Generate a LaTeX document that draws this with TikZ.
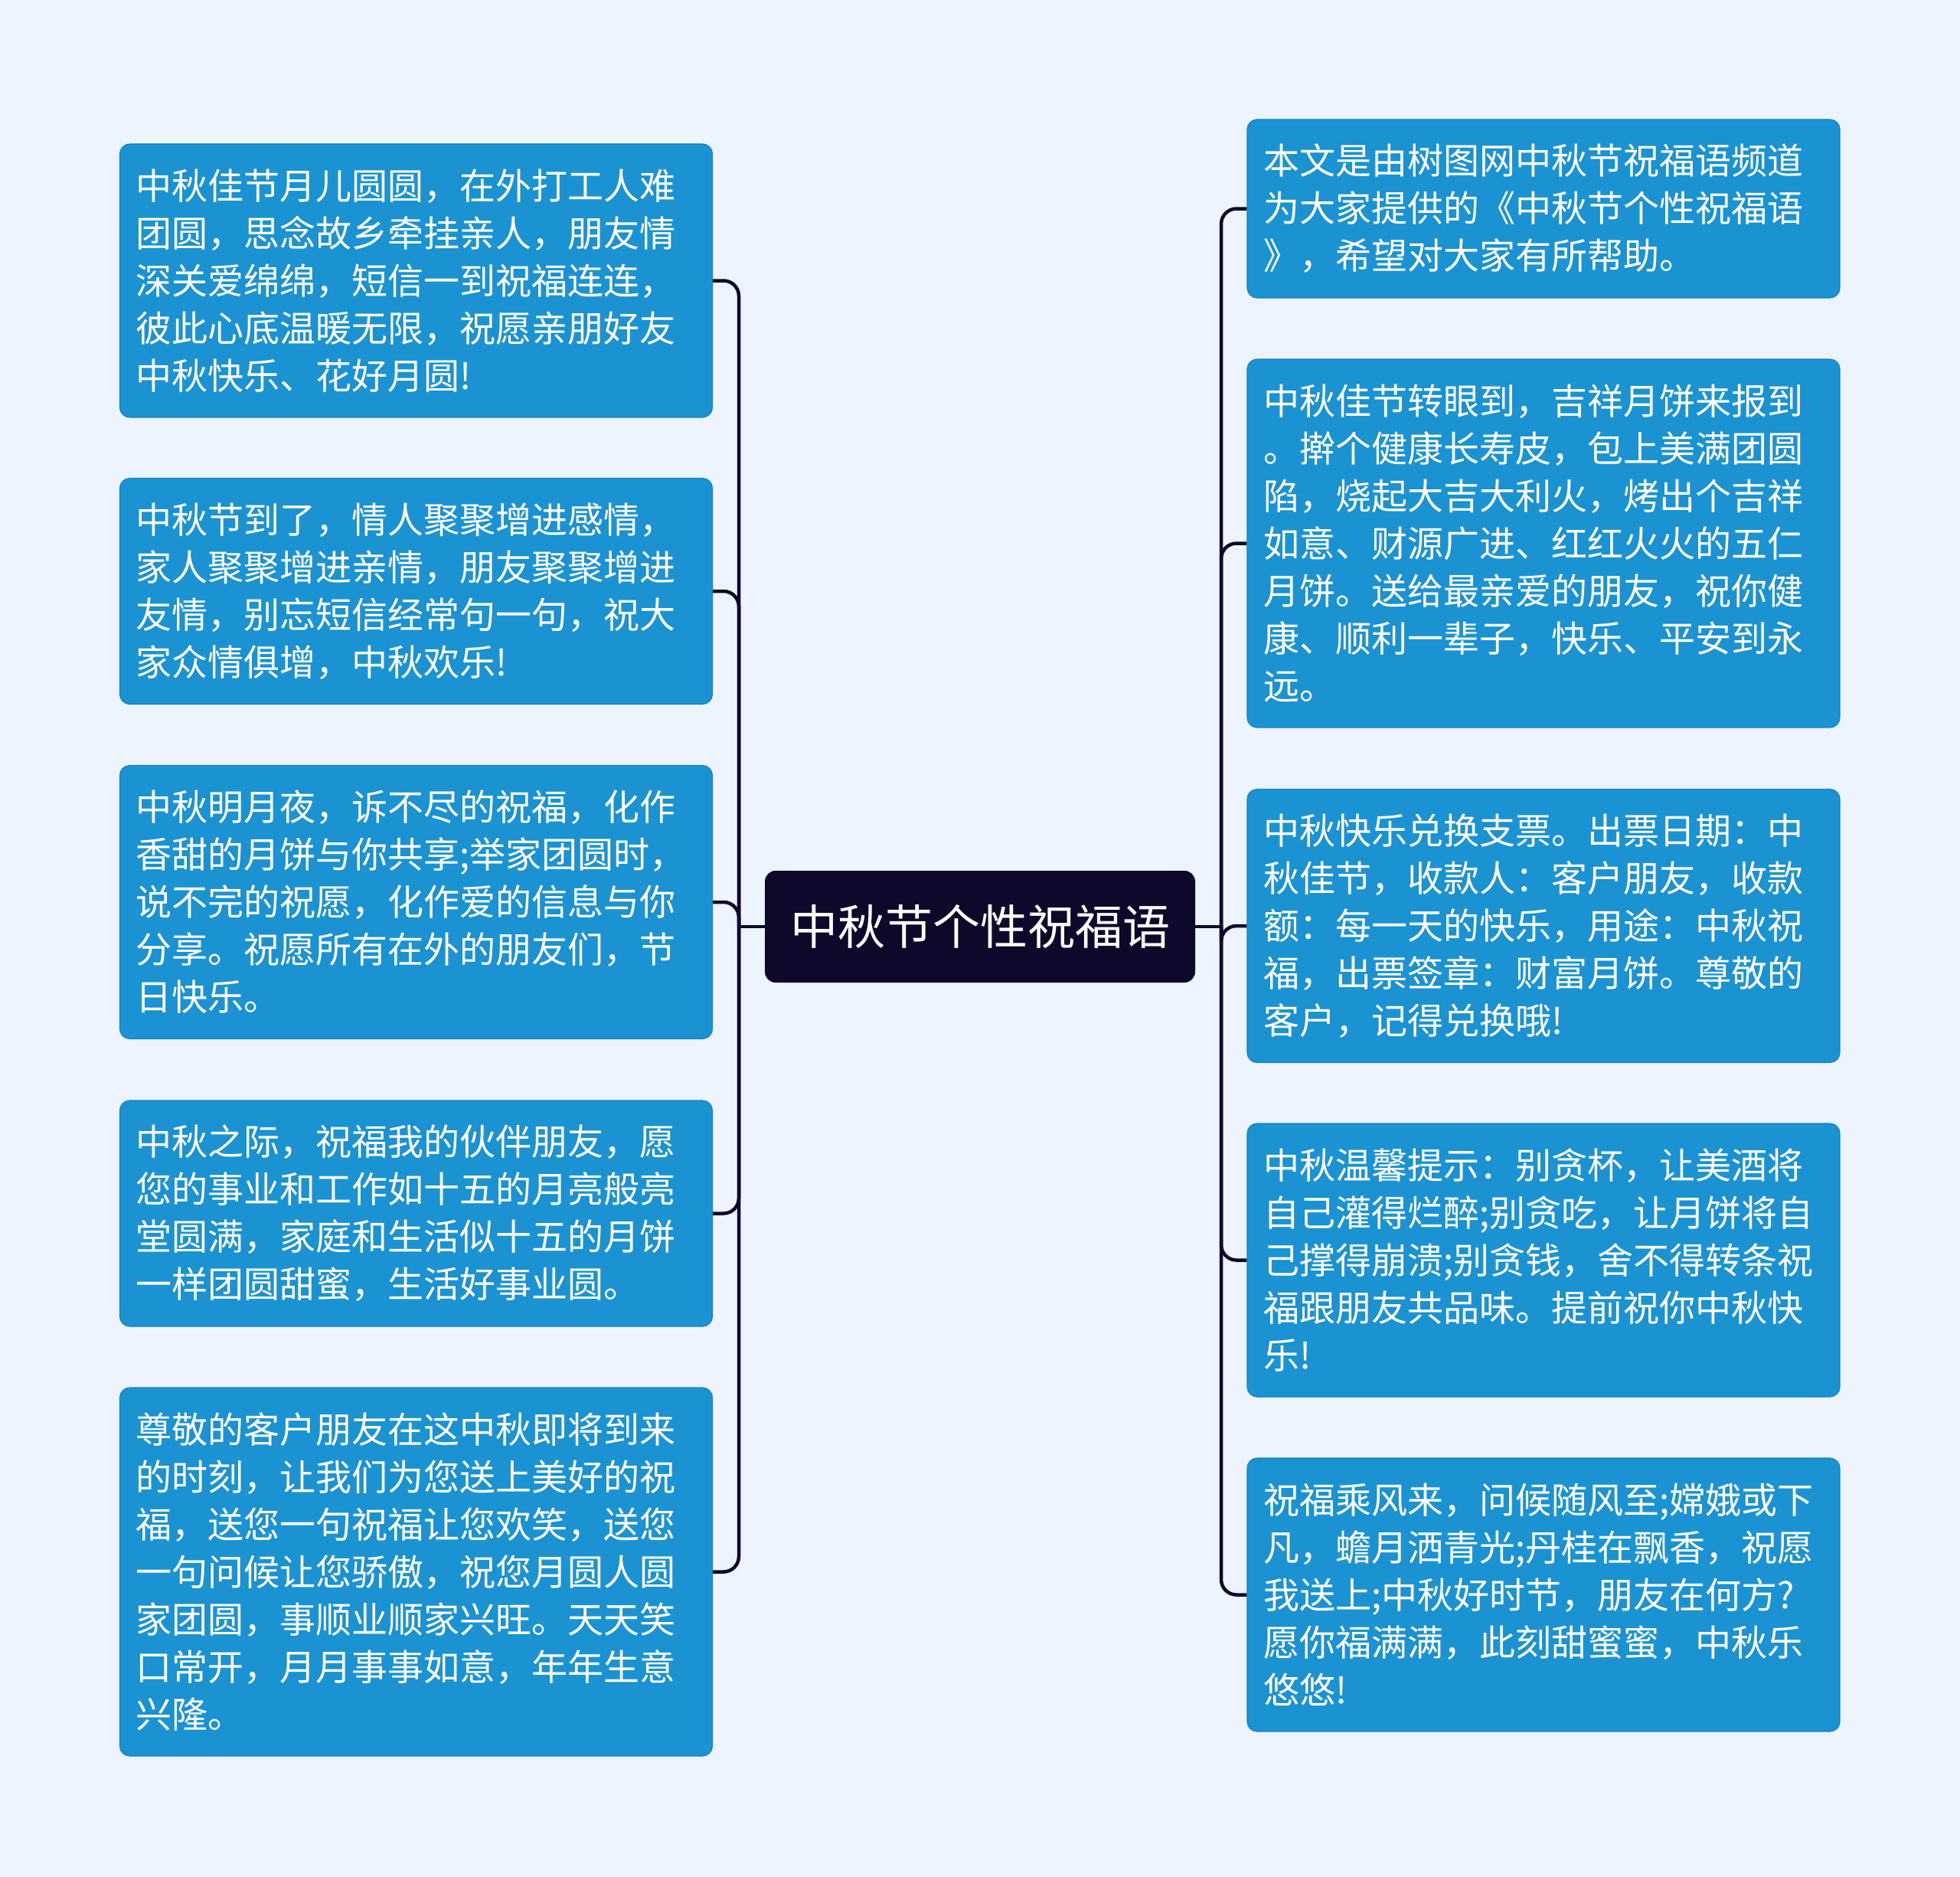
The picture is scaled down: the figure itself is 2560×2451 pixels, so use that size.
\documentclass[tikz,border=0pt]{standalone}
\usepackage{fontspec}
\newfontfamily\cjk{Noto Sans CJK SC}
\definecolor{bg}{RGB}{238,244,253}
\definecolor{boxblue}{RGB}{27,147,211}
\definecolor{boxedge}{RGB}{22,130,190}
\definecolor{navy}{RGB}{12,9,42}
\begin{document}
\begin{tikzpicture}[x=1pt,y=-1pt,
  leaf/.style={rectangle, rounded corners=13pt, fill=boxblue, draw=boxedge, line width=1.2pt,
    text=white, font=\cjk\fontsize{47pt}{62pt}\selectfont, align=left,
    text width=732pt, inner xsep=21pt, inner ysep=0pt, minimum width=774pt},
  root/.style={rectangle, rounded corners=14pt, fill=navy, text=white,
    font=\cjk\fontsize{62pt}{70pt}\selectfont, minimum width=562pt, minimum height=146pt, inner sep=0pt},
  link/.style={draw=navy, line width=4.5pt, rounded corners=20pt}]
\useasboundingbox[fill=bg] (0,0) rectangle (2560,2451);

\node[root] (C) at (1280,1210) {中秋节个性祝福语};

\node[leaf, minimum height=357pt] (L1) at (543.5,366.5) {中秋佳节月儿圆圆，在外打工人难\\团圆，思念故乡牵挂亲人，朋友情\\深关爱绵绵，短信一到祝福连连，\\彼此心底温暖无限，祝愿亲朋好友\\中秋快乐、花好月圆!};
\node[leaf, minimum height=295pt] (L2) at (543.5,772) {中秋节到了，情人聚聚增进感情，\\家人聚聚增进亲情，朋友聚聚增进\\友情，别忘短信经常句一句，祝大\\家众情俱增，中秋欢乐!};
\node[leaf, minimum height=357pt] (L3) at (543.5,1178) {中秋明月夜，诉不尽的祝福，化作\\香甜的月饼与你共享;举家团圆时，\\说不完的祝愿，化作爱的信息与你\\分享。祝愿所有在外的朋友们，节\\日快乐。};
\node[leaf, minimum height=295pt] (L4) at (543.5,1584.5) {中秋之际，祝福我的伙伴朋友，愿\\您的事业和工作如十五的月亮般亮\\堂圆满，家庭和生活似十五的月饼\\一样团圆甜蜜，生活好事业圆。};
\node[leaf, minimum height=481pt] (L5) at (543.5,2052.5) {尊敬的客户朋友在这中秋即将到来\\的时刻，让我们为您送上美好的祝\\福，送您一句祝福让您欢笑，送您\\一句问候让您骄傲，祝您月圆人圆\\家团圆，事顺业顺家兴旺。天天笑\\口常开，月月事事如意，年年生意\\兴隆。};

\node[leaf, minimum height=233pt] (R1) at (2016,272.5) {本文是由树图网中秋节祝福语频道\\为大家提供的《中秋节个性祝福语\\》，希望对大家有所帮助。};
\node[leaf, minimum height=481pt] (R2) at (2016,709.5) {中秋佳节转眼到，吉祥月饼来报到\\。擀个健康长寿皮，包上美满团圆\\陷，烧起大吉大利火，烤出个吉祥\\如意、财源广进、红红火火的五仁\\月饼。送给最亲爱的朋友，祝你健\\康、顺利一辈子，快乐、平安到永\\远。};
\node[leaf, minimum height=357pt] (R3) at (2016,1209) {中秋快乐兑换支票。出票日期：中\\秋佳节，收款人：客户朋友，收款\\额：每一天的快乐，用途：中秋祝\\福，出票签章：财富月饼。尊敬的\\客户，记得兑换哦!};
\node[leaf, minimum height=357pt] (R4) at (2016,1645.5) {中秋温馨提示：别贪杯，让美酒将\\自己灌得烂醉;别贪吃，让月饼将自\\己撑得崩溃;别贪钱，舍不得转条祝\\福跟朋友共品味。提前祝你中秋快\\乐!};
\node[leaf, minimum height=357pt] (R5) at (2016,2082.5) {祝福乘风来，问候随风至;嫦娥或下\\凡，蟾月洒青光;丹桂在飘香，祝愿\\我送上;中秋好时节，朋友在何方?\\愿你福满满，此刻甜蜜蜜，中秋乐\\悠悠!};

\coordinate (LS) at (965,1210);
\coordinate (RS) at (1595,1210);
\draw[link] (C.west) -- (LS);
\draw[link] (C.east) -- (RS);
\foreach \n in {L1,L2,L3,L4,L5} \draw[link] (LS) |- (\n.east);
\foreach \n in {R1,R2,R3,R4,R5} \draw[link] (RS) |- (\n.west);
\end{tikzpicture}
\end{document}
